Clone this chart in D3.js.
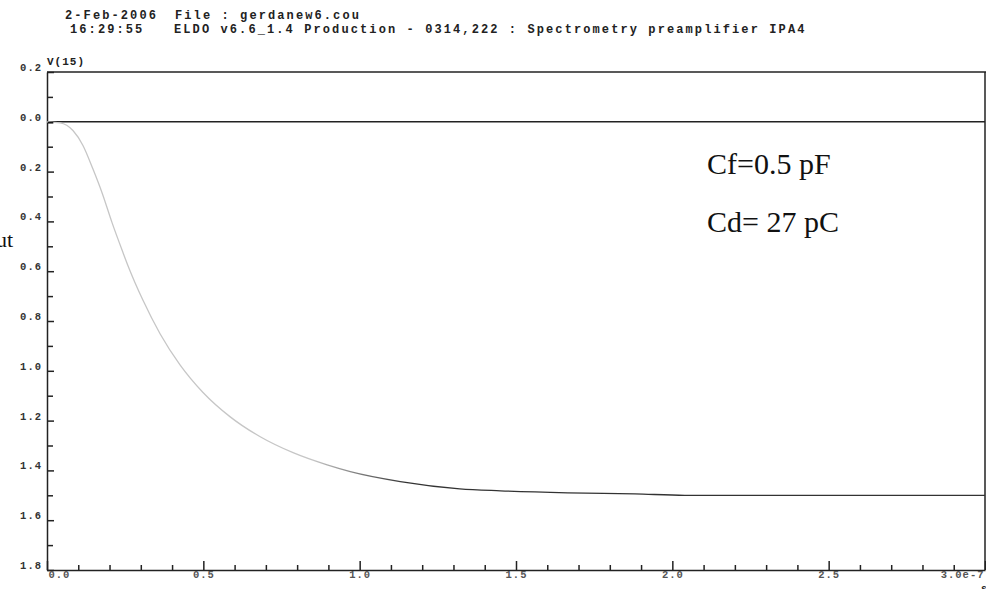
<!DOCTYPE html>
<html>
<head>
<meta charset="utf-8">
<script src="https://cdn.jsdelivr.net/npm/d3@7"></script>
<style>
  body { margin: 0; background: #fff; }
  svg { display: block; }
  .mono { font-family: "Liberation Mono", "DejaVu Sans Mono", monospace; font-weight: bold; fill: #222; }
  .axis text { font-family: "Liberation Mono", "DejaVu Sans Mono", monospace; font-weight: bold; font-size: 10.5px; letter-spacing: 1px; fill: #333; }
  .axis path, .axis line { stroke: #222; stroke-width: 1.5; }
  .note { font-family: "Liberation Serif", "Times New Roman", serif; font-size: 30px; fill: #111; }
</style>
</head>
<body>
<svg width="986" height="589"></svg>
<script>

// time in units of 1e-7 s, V(15) in volts
var timeVals = [0, 0.042, 0.083, 0.115, 0.147, 0.176, 0.208, 0.243, 0.259, 0.307, 0.362, 0.426, 0.499,
                0.586, 0.682, 0.787, 0.896, 0.97, 1.13, 1.32, 1.45, 1.665, 1.88, 2.04, 2.5, 3.0];
var voutVals = [0, -0.004, -0.035, -0.095, -0.19, -0.285, -0.405, -0.525, -0.578, -0.717, -0.852, -0.977, -1.087,
                -1.185, -1.265, -1.329, -1.378, -1.405, -1.445, -1.474, -1.482, -1.49, -1.494, -1.5, -1.5, -1.5];

var xMajor = [0, 0.5, 1.0, 1.5, 2.0, 2.5, 3.0];
var xMinor = [0.1, 0.2, 0.3, 0.4, 0.6, 0.7, 0.8, 0.9, 1.1, 1.2, 1.3, 1.4, 1.6, 1.7, 1.8, 1.9,
              2.1, 2.2, 2.3, 2.4, 2.6, 2.7, 2.8, 2.9];
var xLabels = ["0.0", "0.5", "1.0", "1.5", "2.0", "2.5", "3.0e-7"];
var yMajor = [0.2, 0, -0.2, -0.4, -0.6, -0.8, -1.0, -1.2, -1.4, -1.6, -1.8];
var yMinor = [0.1, -0.1, -0.3, -0.5, -0.7, -0.9, -1.1, -1.3, -1.5, -1.7];

var headerLeft = ["2-Feb-2006", "16:29:55"];
var headerRight = ["File : gerdanew6.cou", "ELDO v6.6_1.4 Production - 0314,222 : Spectrometry preamplifier IPA4"];
var notes = ["Cf=0.5 pF", "Cd= 27 pC"];

var svg = d3.select("svg");

var margin = {top: 72, right: 1, bottom: 19, left: 47};
var width = +svg.attr("width") - margin.left - margin.right;
var height = +svg.attr("height") - margin.top - margin.bottom;

var x = d3.scaleLinear().domain([0, 3]).range([margin.left, margin.left + width]);
var y = d3.scaleLinear().domain([0.2, -1.8]).range([margin.top, margin.top + height]);

var data = timeVals.map(function(t, i) { return {t: t, v: voutVals[i]}; });

// header lines
svg.selectAll(".hl").data(headerLeft).enter().append("text")
    .attr("class", "mono hl")
    .attr("x", function(d, i) { return i ? 70 : 65; })
    .attr("y", function(d, i) { return i ? 33 : 19; })
    .style("font-size", "12px").style("letter-spacing", "2.1px")
    .text(function(d) { return d; });

svg.selectAll(".hr").data(headerRight).enter().append("text")
    .attr("class", "mono hr")
    .attr("x", function(d, i) { return i ? 174 : 175; })
    .attr("y", function(d, i) { return i ? 33 : 19; })
    .style("font-size", "12px").style("letter-spacing", "2.1px")
    .text(function(d) { return d; });

svg.append("text")
    .attr("class", "mono")
    .attr("x", margin.left)
    .attr("y", 65)
    .style("font-size", "11px").style("letter-spacing", "1px")
    .text("V(15)");

// y title, cut off by the left edge as in the original
svg.append("text")
    .attr("x", 13)
    .attr("y", 247)
    .attr("text-anchor", "end")
    .style("font-family", "Liberation Serif, serif")
    .style("font-size", "22px")
    .style("fill", "#111")
    .text("Vout");

// frame
svg.append("line")
    .attr("x1", x(0)).attr("x2", x(3) + 1)
    .attr("y1", y(0.2)).attr("y2", y(0.2))
    .attr("stroke", "#222").attr("stroke-width", 1.5);
svg.append("line")
    .attr("x1", x(3)).attr("x2", x(3))
    .attr("y1", y(0.2)).attr("y2", y(-1.8))
    .attr("stroke", "#222").attr("stroke-width", 1.5);
svg.append("line")
    .attr("x1", x(0)).attr("x2", x(3))
    .attr("y1", y(0)).attr("y2", y(0))
    .attr("stroke", "#222").attr("stroke-width", 1.5);

// y axis
svg.append("g")
    .attr("class", "axis axis--y")
    .attr("transform", "translate(" + x(0) + ",0)")
    .call(d3.axisLeft(y).tickValues(yMajor).tickSizeInner(-7).tickSizeOuter(0).tickPadding(5)
        .tickFormat(function(d) { return Math.abs(d).toFixed(1); }))
    .selectAll("text").attr("dy", "-0.15em");

svg.append("g")
    .attr("class", "axis axis--y-minor")
    .attr("transform", "translate(" + x(0) + ",0)")
    .call(d3.axisLeft(y).tickValues(yMinor).tickSizeInner(-6).tickSizeOuter(0).tickFormat(""))
    .select(".domain").remove();

// x axis
var xAxis = svg.append("g")
    .attr("class", "axis axis--x")
    .attr("transform", "translate(0," + y(-1.8) + ")")
    .call(d3.axisBottom(x).tickValues(xMajor).tickSizeInner(-9).tickSizeOuter(0).tickPadding(1)
        .tickFormat(function(d, i) { return xLabels[i]; }));
xAxis.selectAll("text").style("fill", "#555");
xAxis.selectAll(".tick").filter(function(d) { return d === 0; }).select("text")
    .attr("text-anchor", "start").attr("x", 1);
xAxis.selectAll(".tick").filter(function(d) { return d === 3; }).select("text")
    .attr("text-anchor", "end").attr("x", -1);

svg.append("g")
    .attr("class", "axis axis--x-minor")
    .attr("transform", "translate(0," + y(-1.8) + ")")
    .call(d3.axisBottom(x).tickValues(xMinor).tickSizeInner(-5).tickSizeOuter(0).tickFormat(""))
    .select(".domain").remove();

// unit, mostly below the bottom edge as in the original
svg.append("text")
    .attr("class", "mono")
    .attr("x", 981).attr("y", 592)
    .style("font-size", "10px")
    .text("s");

// curve: light grey while steep, darker on the flat tail
var grad = svg.append("defs").append("linearGradient")
    .attr("id", "tail")
    .attr("gradientUnits", "userSpaceOnUse")
    .attr("x1", x(0.85)).attr("x2", x(1.15))
    .attr("y1", 0).attr("y2", 0);
grad.append("stop").attr("offset", 0).attr("stop-color", "#c6c6c6");
grad.append("stop").attr("offset", 1).attr("stop-color", "#333");

var line = d3.line()
    .curve(d3.curveMonotoneX)
    .x(function(d) { return x(d.t); })
    .y(function(d) { return y(d.v); });

svg.append("path")
    .datum(data)
    .attr("fill", "none")
    .attr("stroke", "url(#tail)")
    .attr("stroke-width", 1.3)
    .attr("d", line);

svg.append("line")
    .attr("x1", x(0) + 1).attr("x2", x(0.02))
    .attr("y1", y(0) + 1).attr("y2", y(0) + 1)
    .attr("stroke", "#111").attr("stroke-width", 1.5);

// annotations
svg.selectAll(".note").data(notes).enter().append("text")
    .attr("class", "note")
    .attr("x", 707)
    .attr("y", function(d, i) { return 174 + i * 58; })
    .text(function(d) { return d; });

</script>
</body>
</html>
